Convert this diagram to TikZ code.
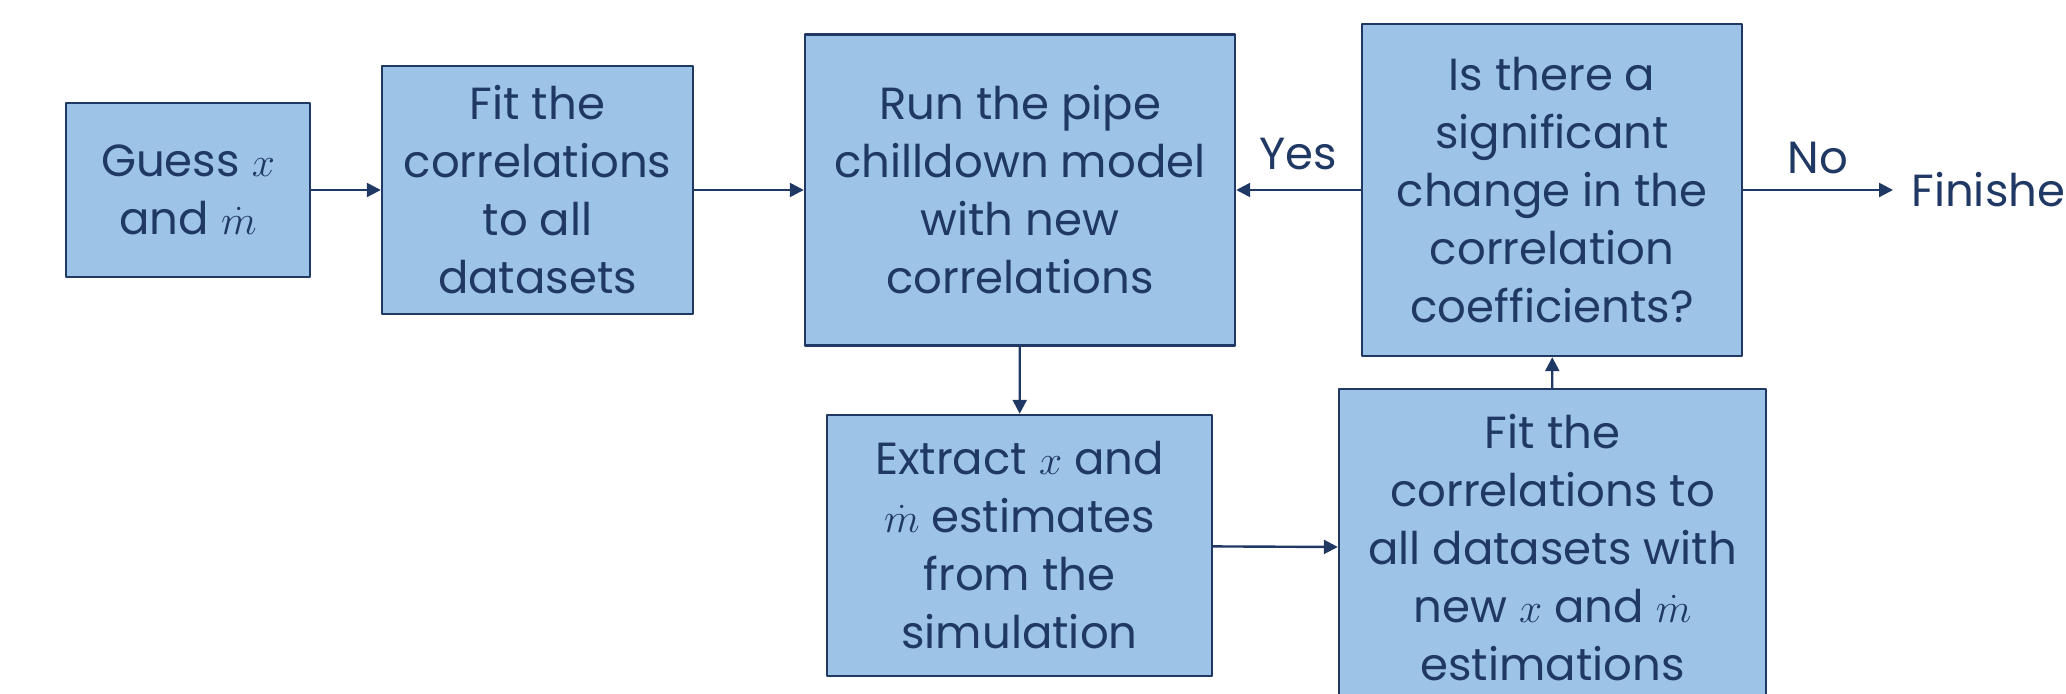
\documentclass[tikz,border=0pt]{standalone}
\usepackage{fontspec}
\setmainfont{Poppins}
\usetikzlibrary{arrows.meta}
\definecolor{boxfill}{HTML}{9DC3E6}
\definecolor{navy}{HTML}{203864}
\begin{document}
\begin{tikzpicture}[x=0.5pt,y=-0.5pt,>={Triangle[length=7pt,width=7pt]},line join=round,
	every node/.style={text=navy,font=\fontsize{22.5}{29}\selectfont},
	stepbox/.style={draw=navy,fill=boxfill,line width=1.2pt,align=center,inner sep=0pt},
	link/.style={->,draw=navy,line width=1.2pt}]
	\useasboundingbox (0,0) rectangle (2066,694);
	% first row
	\node[stepbox,minimum width=122pt,minimum height=87pt] (guess) at (188,190) {Guess $x$\\and $\dot{m}$};
	\node[stepbox,minimum width=155.5pt,minimum height=124pt] (fit) at (537.5,190) {Fit the\\correlations\\to all\\datasets};
	\node[stepbox,minimum width=215pt,minimum height=155.5pt] (run) at (1020,190) {Run the pipe\\chilldown model\\with new\\correlations};
	\node[stepbox,minimum width=190pt,minimum height=166pt] (check) at (1552,190) {Is there a\\significant\\change in the\\correlation\\coefficients?};
	\node[anchor=west,inner sep=9pt] (done) at (1893,190) {Finished};
	% second row
	\node[stepbox,minimum width=192.5pt,minimum height=130.5pt] (extract) at (1019.5,545.5) {Extract $x$ and\\$\dot{m}$ estimates\\from the\\simulation};
	\node[stepbox,minimum width=213.5pt,minimum height=159pt] (refit) at (1552.5,548) {Fit the\\correlations to\\all datasets with\\new $x$ and $\dot{m}$\\estimations};
	% connectors
	\draw[link] (guess) -- (fit);
	\draw[link] (fit) -- (run);
	\draw[link] (run) -- (extract);
	\draw[link] (extract) -- (refit);
	\draw[link] (refit) -- (check);
	\draw[link] (check) -- node[above=6pt,pos=0.5] (yes) {Yes} (run);
	\draw[link] (check) -- node[above=4pt,pos=0.5] (no) {No} (done);
\end{tikzpicture}
\end{document}
